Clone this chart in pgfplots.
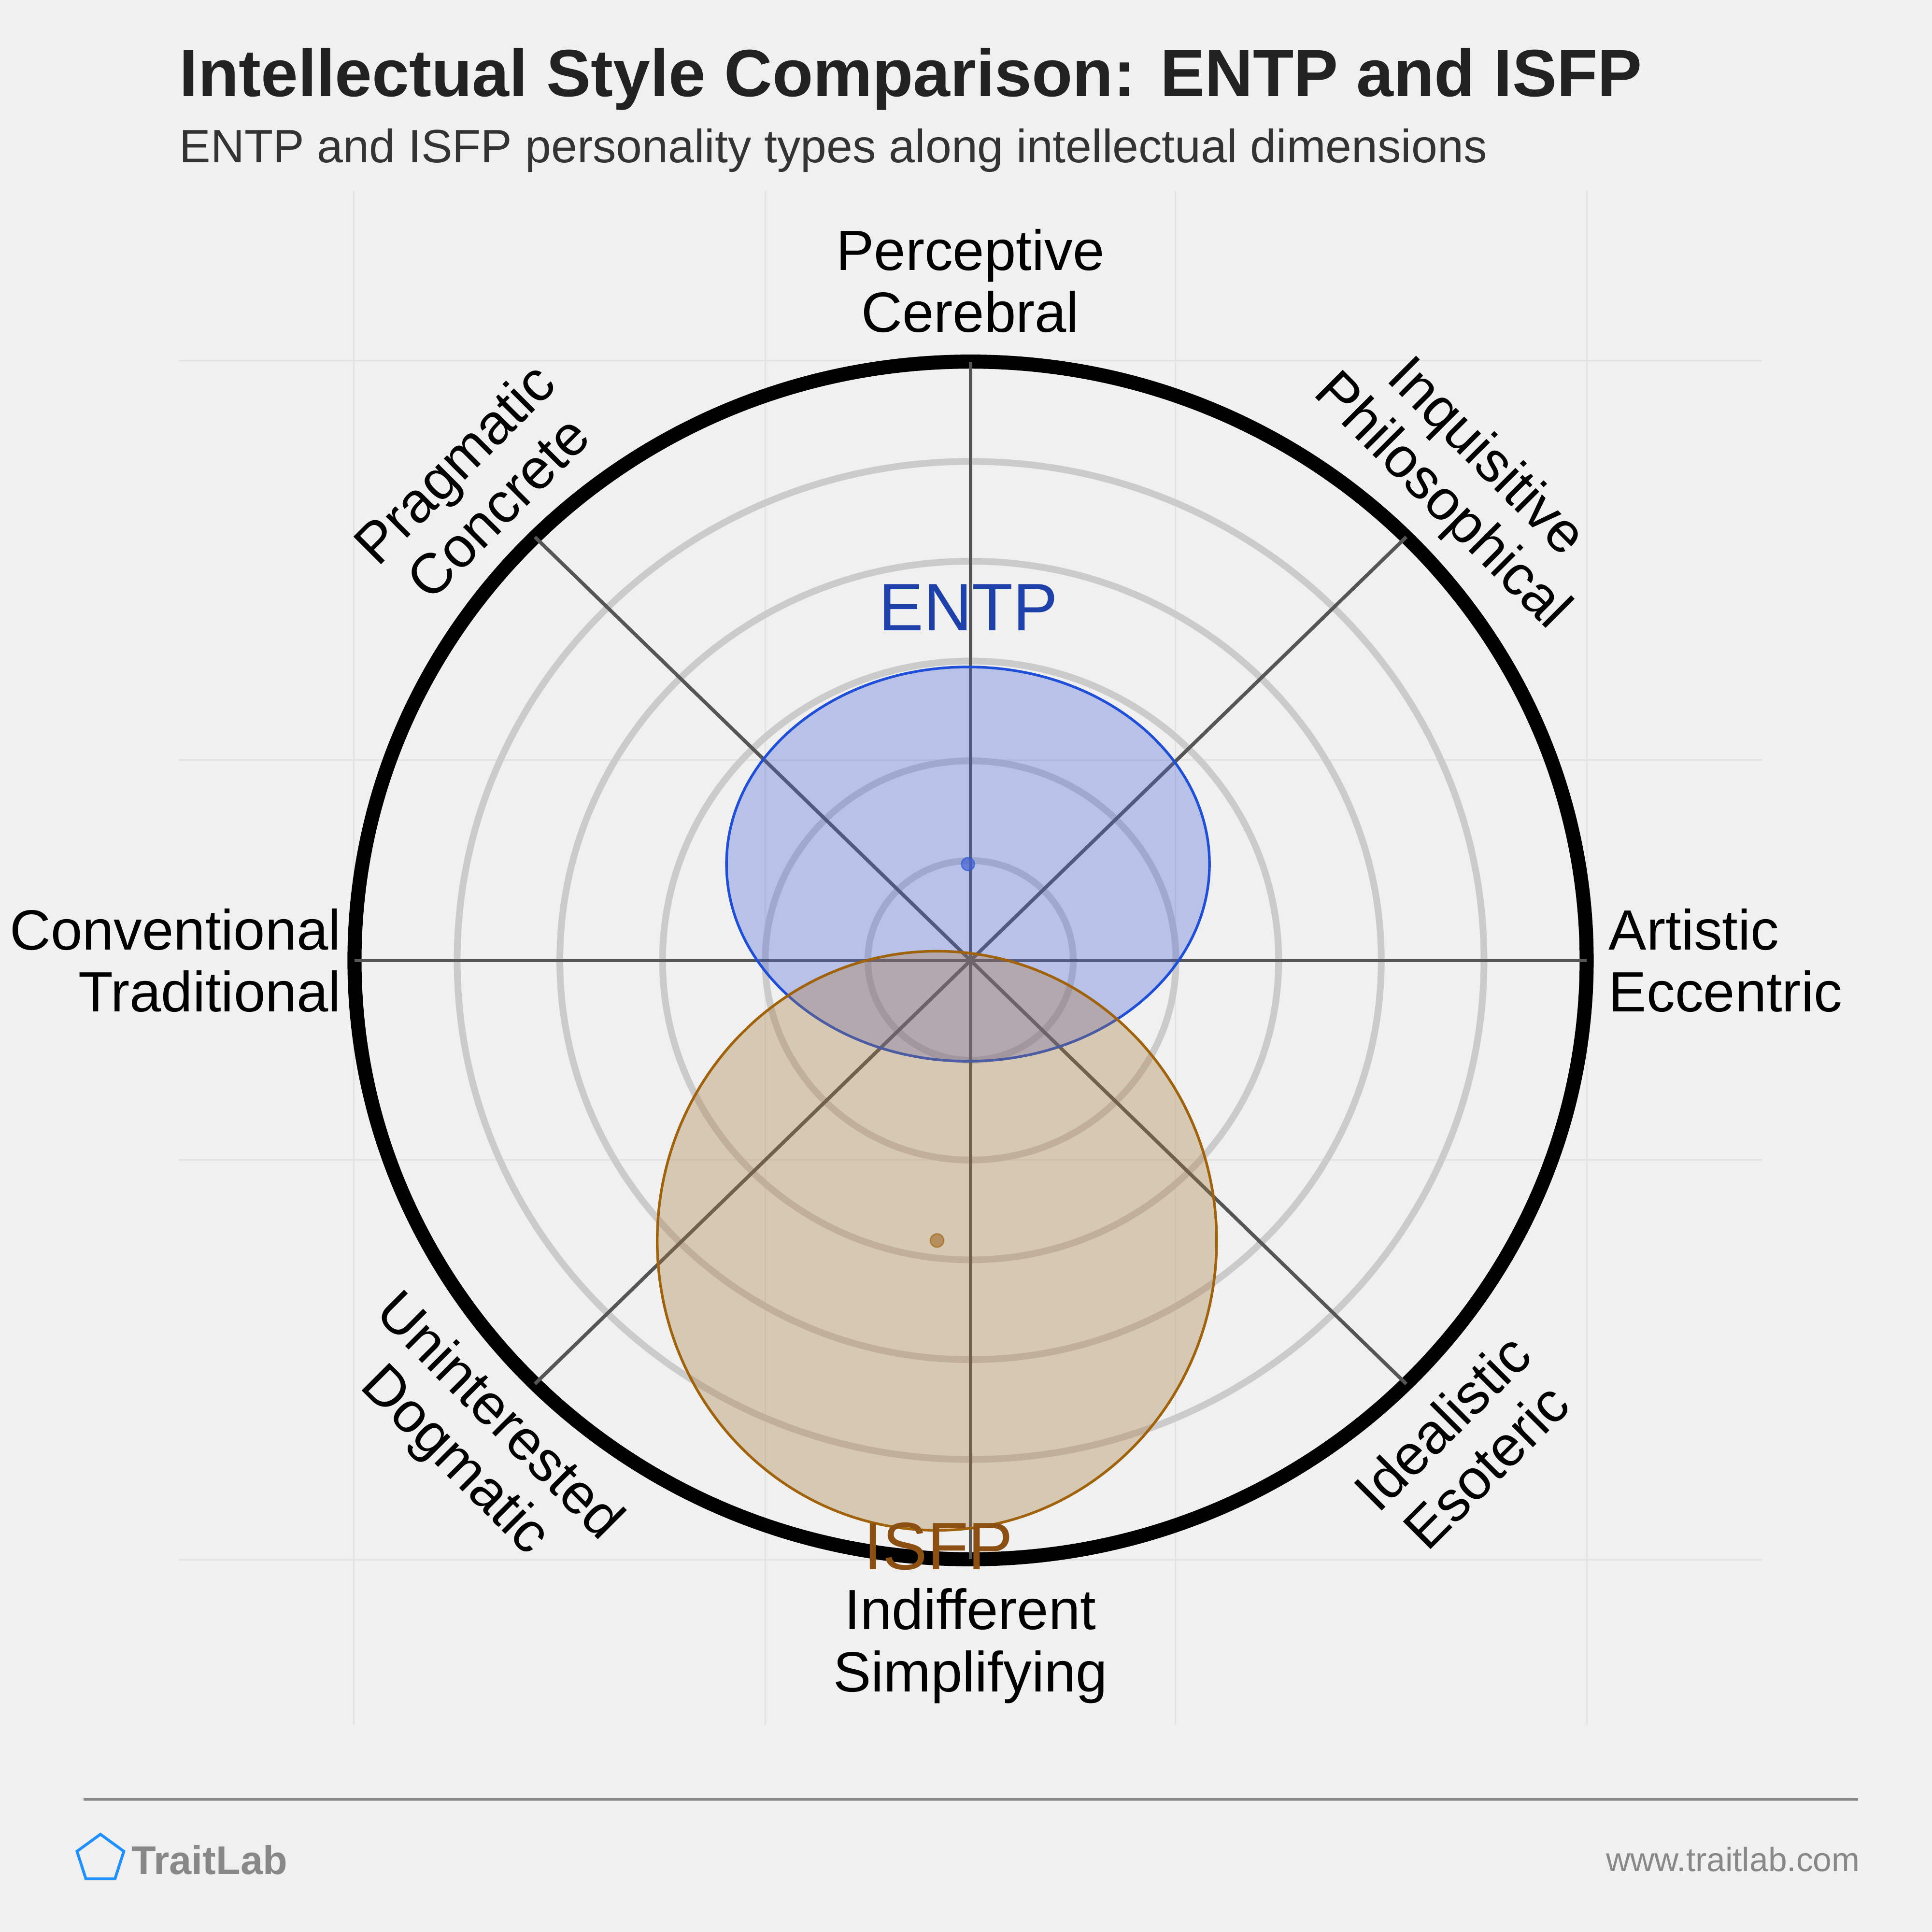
\documentclass[border=0pt]{standalone}
\usepackage{fontspec}
\setmainfont{Liberation Sans}
\usepackage{pgfplots}
\pgfplotsset{compat=1.18}
\definecolor{bg}{HTML}{F0F0F0}
\definecolor{faint}{HTML}{E3E3E3}
\definecolor{ring}{HTML}{CBCBCB}
\definecolor{spoke}{HTML}{555555}
\definecolor{entpfill}{RGB}{70,98,214}
\definecolor{entpline}{RGB}{31,79,216}
\definecolor{entptext}{RGB}{30,64,170}
\definecolor{isfpfill}{RGB}{167,119,58}
\definecolor{isfpline}{RGB}{160,98,10}
\definecolor{isfptext}{RGB}{139,79,18}
\definecolor{titlecol}{HTML}{222222}
\definecolor{subcol}{HTML}{333333}
\definecolor{footgray}{HTML}{888888}
\definecolor{logoblue}{HTML}{1E90FF}
\newcommand{\lab}{\fontsize{13.1}{14.3}\selectfont}
\begin{document}
\begin{tikzpicture}
\begin{axis}[at={(0,0)}, anchor=south west, scale only axis,
  width=15.68cm, height=15.68cm,
  xmin=0, xmax=1568, ymin=0, ymax=1568,
  axis lines=none, xtick=\empty, ytick=\empty, clip=false]
% background
\fill[bg] (axis cs:0,0) rectangle (axis cs:1568,1568);
% faint cartesian grid
\draw[faint, line width=0.35pt] (axis cs:287,168) -- (axis cs:287,1413);
\draw[faint, line width=0.35pt] (axis cs:621,168) -- (axis cs:621,1413);
\draw[faint, line width=0.35pt] (axis cs:954,168) -- (axis cs:954,1413);
\draw[faint, line width=0.35pt] (axis cs:1288,168) -- (axis cs:1288,1413);
\draw[faint, line width=0.35pt] (axis cs:145,1275.5) -- (axis cs:1430,1275.5);
\draw[faint, line width=0.35pt] (axis cs:145,951) -- (axis cs:1430,951);
\draw[faint, line width=0.35pt] (axis cs:145,626.6) -- (axis cs:1430,626.6);
\draw[faint, line width=0.35pt] (axis cs:145,302) -- (axis cs:1430,302);
% gray rings
\draw[ring, line width=1.55pt] (axis cs:787.7,788.5) ellipse [x radius=83.33, y radius=81];
\draw[ring, line width=1.55pt] (axis cs:787.7,788.5) ellipse [x radius=166.67, y radius=162];
\draw[ring, line width=1.55pt] (axis cs:787.7,788.5) ellipse [x radius=250, y radius=243];
\draw[ring, line width=1.55pt] (axis cs:787.7,788.5) ellipse [x radius=333.33, y radius=324];
\draw[ring, line width=1.55pt] (axis cs:787.7,788.5) ellipse [x radius=416.67, y radius=405];
% outer ring
\draw[black, line width=3.25pt] (axis cs:787.7,788.5) ellipse [x radius=500, y radius=486];
% spokes
\addplot[spoke, line width=0.82pt, forget plot] coordinates {(287.7,788.5) (1287.7,788.5)};
\addplot[spoke, line width=0.82pt, forget plot] coordinates {(787.7,302.5) (787.7,1274.5)};
\addplot[spoke, line width=0.82pt, forget plot] coordinates {(434.1,444.8) (1141.3,1132.2)};
\addplot[spoke, line width=0.82pt, forget plot] coordinates {(434.1,1132.2) (1141.3,444.8)};
% ENTP
\draw[fill=entpfill, fill opacity=0.33, draw=entpline, line width=0.6pt] (axis cs:785.6,866.7) ellipse [x radius=196, y radius=160];
% ISFP
\draw[fill=isfpfill, fill opacity=0.33, draw=isfpline, line width=0.6pt] (axis cs:760.4,561) ellipse [x radius=227, y radius=235];
% centre points
\addplot[only marks, mark=*, mark size=1.5pt, mark options={fill=entpfill, fill opacity=0.7, draw=entpline, draw opacity=0.6, line width=0.3pt}, forget plot] coordinates {(785.6,866.7)};
\addplot[only marks, mark=*, mark size=1.55pt, mark options={fill=isfpfill, fill opacity=0.7, draw=isfpline, draw opacity=0.6, line width=0.3pt}, forget plot] coordinates {(760.5,561.2)};
% type labels
\node[anchor=base, text=entptext, font=\fontsize{15.5}{18}\selectfont, inner sep=0pt] at (axis cs:786,1056.4) {ENTP};
\node[anchor=base, text=isfptext, font=\fontsize{15.5}{18}\selectfont, inner sep=0pt] at (axis cs:761.7,294) {ISFP};
% axis labels
\node[anchor=base, font=\lab, inner sep=0pt] at (axis cs:787.5,1348.5) {Perceptive};
\node[anchor=base, font=\lab, inner sep=0pt] at (axis cs:787.5,1298.4) {Cerebral};
\node[anchor=base, font=\lab, inner sep=0pt] at (axis cs:787.5,245.6) {Indifferent};
\node[anchor=base, font=\lab, inner sep=0pt] at (axis cs:787.5,195) {Simplifying};
\node[anchor=base east, font=\lab, inner sep=0pt] at (axis cs:277.5,797) {Conventional};
\node[anchor=base east, font=\lab, inner sep=0pt] at (axis cs:277.5,747) {Traditional};
\node[anchor=base west, font=\lab, inner sep=0pt] at (axis cs:1305,797) {Artistic};
\node[anchor=base west, font=\lab, inner sep=0pt] at (axis cs:1305,747) {Eccentric};
\node[anchor=center, align=center, rotate=45, font=\lab, inner sep=0pt] at (axis cs:386,1174.5) {Pragmatic\\Concrete};
\node[anchor=center, align=center, rotate=-45, font=\lab, inner sep=0pt] at (axis cs:1187,1178) {Inquisitive\\Philosophical};
\node[anchor=center, align=center, rotate=-45, font=\lab, inner sep=0pt] at (axis cs:386,399.5) {Uninterested\\Dogmatic};
\node[anchor=center, align=center, rotate=45, font=\lab, inner sep=0pt] at (axis cs:1188,396) {Idealistic\\Esoteric};
% title and subtitle
\node[anchor=base west, text=titlecol, font=\fontsize{15.4}{18}\selectfont\bfseries, inner sep=0pt] at (axis cs:145,1489.6) {Intellectual Style Comparison: ENTP and ISFP};
\node[anchor=base west, text=subcol, font=\fontsize{10.8}{13}\selectfont, inner sep=0pt] at (axis cs:145,1436) {ENTP and ISFP personality types along intellectual dimensions};
% footer
\draw[footgray, line width=0.6pt] (axis cs:68,107.5) -- (axis cs:1508,107.5);
\draw[logoblue, line width=0.65pt, line join=miter] (axis cs:81.5,79.3) -- (axis cs:62.5,65.5) -- (axis cs:69.7,43.1) -- (axis cs:93.3,43.1) -- (axis cs:100.5,65.5) -- cycle;
\node[anchor=base west, text=footgray, font=\fontsize{9.25}{11}\selectfont\bfseries, inner sep=0pt] at (axis cs:106,47) {TraitLab};
\node[anchor=base east, text=footgray, font=\fontsize{7.75}{9.5}\selectfont, inner sep=0pt] at (axis cs:1510,49) {www.traitlab.com};
\end{axis}
\end{tikzpicture}
\end{document}
